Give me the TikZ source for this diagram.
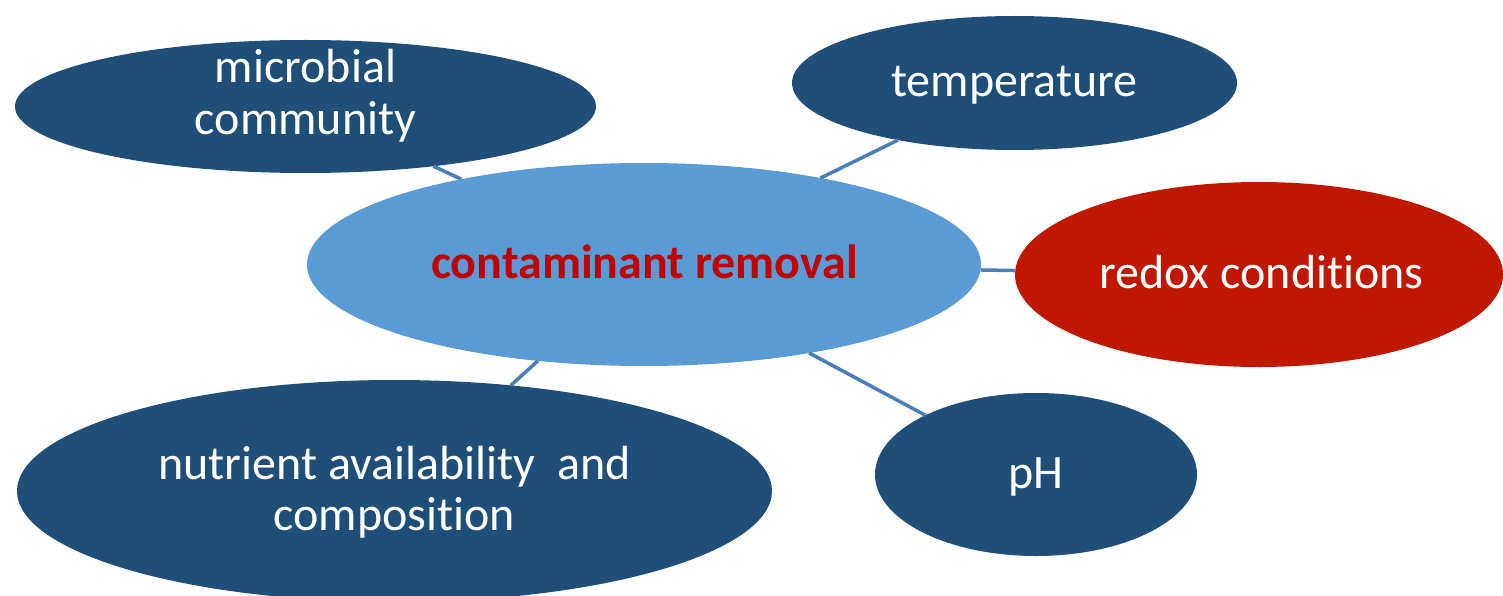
\documentclass[tikz,border=0pt]{standalone}
\usepackage{fontspec}
\setmainfont{Carlito}[Ligatures={NoCommon}]
\usetikzlibrary{shapes.geometric}
\definecolor{darkblue}{HTML}{1F4E79}
\definecolor{lightblue}{HTML}{5B9BD5}
\definecolor{redoxred}{HTML}{C01800}
\definecolor{titlered}{HTML}{C00000}
\definecolor{linkblue}{HTML}{4A7EBB}
\begin{document}
\begin{tikzpicture}[x=1pt,y=-1pt,
  blob/.style={ellipse, inner sep=0pt, outer sep=0pt, draw=none},
  link/.style={draw=linkblue, line width=3.5pt},
  lbl/.style={text=white, font=\fontsize{48}{51.5}\selectfont, align=center, inner sep=0pt}]
\useasboundingbox (0,0) rectangle (1503,596);
\clip (0,0) rectangle (1503,596);
% ellipses
\node[blob, fill=darkblue, minimum width=581pt, minimum height=133pt] (mc) at (305.5,106.5) {};
\node[blob, fill=darkblue, minimum width=445pt, minimum height=134pt] (te) at (1014.5,83) {};
\node[blob, fill=lightblue, minimum width=674pt, minimum height=203pt] (cr) at (644,264.5) {};
\node[blob, fill=redoxred, minimum width=488pt, minimum height=185pt] (rc) at (1259,274.5) {};
\node[blob, fill=darkblue, minimum width=322pt, minimum height=163pt] (ph) at (1036,474.5) {};
\node[blob, fill=darkblue, minimum width=755pt, minimum height=222pt] (nu) at (394.5,491) {};
% connectors
\draw[link] (mc) -- (cr);
\draw[link] (te) -- (cr);
\draw[link] (rc) -- (cr);
\draw[link] (ph) -- (cr);
\draw[link] (nu) -- (cr);
% labels
\node[lbl] (mct) at (305.5,95.75) {microbial\\community};
\node[lbl, anchor=base] (tet) at (1014.5,97) {temperature};
\node[lbl, anchor=base, text=titlered, font=\bfseries\fontsize{48}{51.5}\selectfont] (crt) at (644.5,278) {contaminant removal};
\node[lbl, anchor=base] (rct) at (1261.5,288) {redox conditions};
\node[lbl, anchor=base] (pht) at (1036,488) {pH};
\node[lbl] (nut) at (394.5,492.25) {nutrient availability\ \ and\\composition};
\end{tikzpicture}
\end{document}
